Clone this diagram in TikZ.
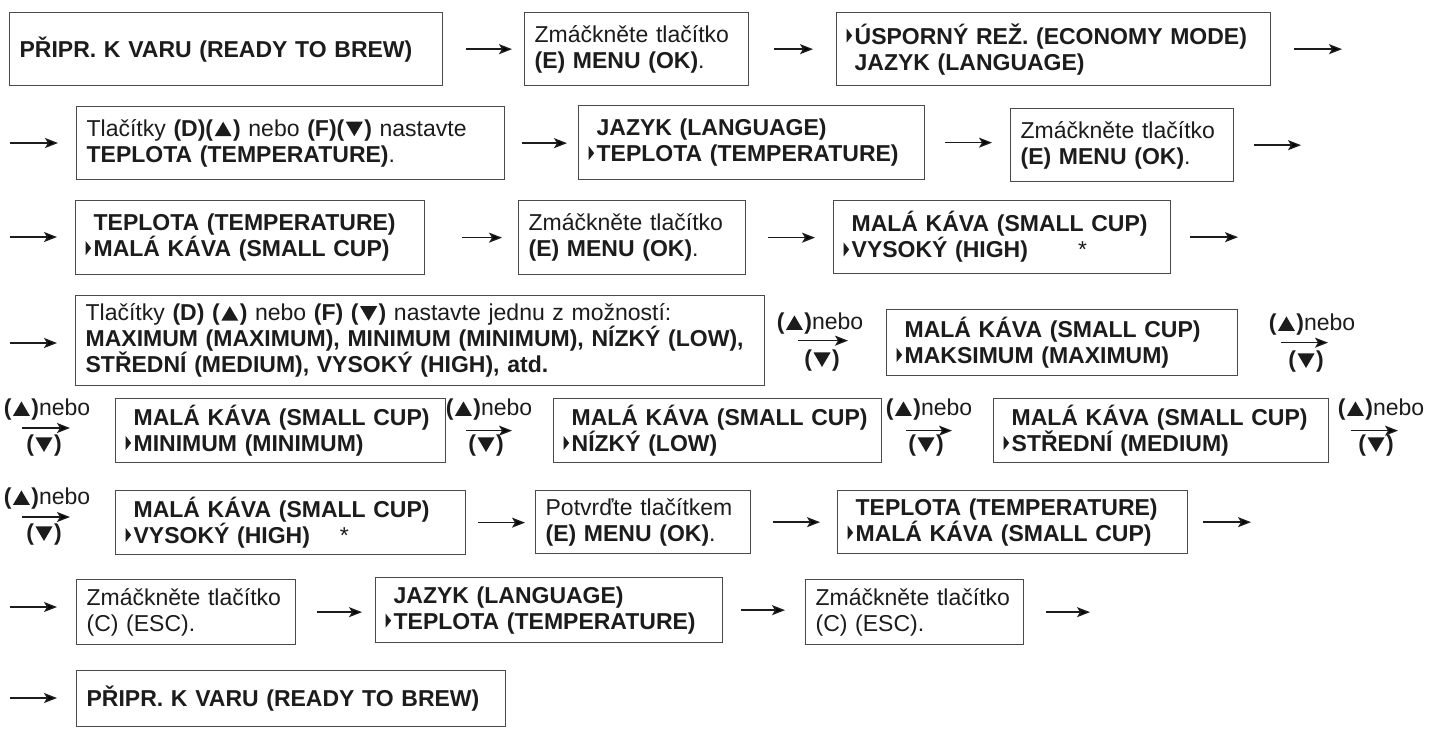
\documentclass[tikz,border=0pt]{standalone}
\usepackage{fontspec}
\setmainfont{Liberation Sans}
\usetikzlibrary{arrows.meta}
\definecolor{txt}{HTML}{1C1C1C}
\definecolor{bord}{HTML}{4A4A4A}
\newcommand\up{\hspace{1.5pt}\tikz[baseline=0pt,x=1pt,y=1pt]\fill[txt] (0,0)--(17,0)--(8.5,14.5)--cycle;\hspace{1.5pt}}
\newcommand\dn{\hspace{1.5pt}\tikz[baseline=0pt,x=1pt,y=1pt]\fill[txt] (0,14.5)--(17,14.5)--(8.5,0)--cycle;\hspace{1.5pt}}
\newcommand\tri{\tikz[baseline=0pt,x=1pt,y=1pt]\fill[txt] (0,1.5)--(5.5,8.5)--(0,15.5)--cycle;\hspace{2.5pt}}
\newcommand\ntri{\hspace{8pt}}
\begin{document}
\begin{tikzpicture}[x=1pt,y=-1pt,
  box/.style={draw=bord, line width=1.3pt, anchor=north west, inner xsep=10pt, inner ysep=0pt,
    align=left, text=txt, font=\fontsize{23}{26}\selectfont},
  bx/.style n args={3}{minimum width=#1pt, text width=#2pt, minimum height=#3pt},
  arr/.style={draw=txt, line width=1.4pt, -{Stealth[length=13pt,width=10pt,inset=3pt]}},
  lab/.style={text=txt, inner sep=0pt, font=\fontsize{23}{26}\selectfont}]
\fill[white] (0,0) rectangle (1429,748);
\useasboundingbox (0,0) rectangle (1429,748);

% Row 1
\node[box,bx={433}{413}{73}] (b1) at (9,12) {\textbf{PŘIPR. K VARU (READY TO BREW)}};
\node[box,bx={224}{204}{73}] (b2) at (524,12) {Zmáčkněte tlačítko\\\textbf{(E) MENU (OK)}.};
\node[box,bx={434}{414}{73}] (b3) at (836,12) {\tri\textbf{ÚSPORNÝ REŽ. (ECONOMY MODE)}\\\ntri\textbf{JAZYK (LANGUAGE)}};
\coordinate (e1) at (1342,48);
\draw[arr, shorten <=23pt, shorten >=12pt] (b1.east) -- (b1.east -| b2.west);
\draw[arr, shorten <=25pt, shorten >=23pt] (b2.east) -- (b2.east -| b3.west);
\draw[arr, shorten <=23pt] (b3.east) -- (b3.east -| e1);

% Row 2
\coordinate (s2) at (10,143);
\node[box,bx={428}{408}{73}] (b4) at (76,106) {Tlačítky \textbf{(D)(\up)} nebo \textbf{(F)(\dn)} nastavte\\\textbf{TEPLOTA (TEMPERATURE)}.};
\node[box,bx={346}{326}{74}] (b5) at (578,105) {\ntri\textbf{JAZYK (LANGUAGE)}\\\tri\textbf{TEPLOTA (TEMPERATURE)}};
\node[box,bx={223}{203}{73}] (b6) at (1010,108) {Zmáčkněte tlačítko\\\textbf{(E) MENU (OK)}.};
\coordinate (e2) at (1301,144);
\draw[arr, shorten >=18pt] (s2) -- (s2 -| b4.west);
\draw[arr, shorten <=17pt, shorten >=11pt] (b4.east) -- (b4.east -| b5.west);
\draw[arr, shorten <=20pt, shorten >=18pt] (b5.east) -- (b5.east -| b6.west);
\draw[arr, shorten <=20pt] (b6.east) -- (b6.east -| e2);

% Row 3
\coordinate (s3) at (10,237);
\node[box,bx={349}{329}{74}] (b7) at (75,200) {\ntri\textbf{TEPLOTA (TEMPERATURE)}\\\tri\textbf{MALÁ KÁVA (SMALL CUP)}};
\node[box,bx={227}{207}{74}] (b8) at (518,200) {Zmáčkněte tlačítko\\\textbf{(E) MENU (OK)}.};
\node[box,bx={337}{317}{73}] (b9) at (833,200) {\ntri\textbf{MALÁ KÁVA (SMALL CUP)}\\\tri\textbf{VYSOKÝ (HIGH)}\hspace{50pt}*};
\coordinate (e3) at (1238,237);
\draw[arr, shorten >=18pt] (s3) -- (s3 -| b7.west);
\draw[arr, shorten <=37pt, shorten >=16pt] (b7.east) -- (b7.east -| b8.west);
\draw[arr, shorten <=22pt, shorten >=18pt] (b8.east) -- (b8.east -| b9.west);
\draw[arr, shorten <=19pt] (b9.east) -- (b9.east -| e3);

% Row 4
\coordinate (s4) at (10,343);
\node[box,bx={689}{669}{90}] (b10) at (75,295) {Tlačítky \textbf{(D) (\up)} nebo \textbf{(F) (\dn)} nastavte jednu z možností:\\\textbf{MAXIMUM (MAXIMUM), MINIMUM (MINIMUM), NÍZKÝ (LOW),}\\\textbf{STŘEDNÍ (MEDIUM), VYSOKÝ (HIGH), atd.}};
\node[box,bx={351}{331}{66}] (b11) at (886,309) {\ntri\textbf{MALÁ KÁVA (SMALL CUP)}\\\tri\textbf{MAKSIMUM (MAXIMUM)}};
\coordinate (e4) at (1328,343);
\draw[arr, shorten >=18pt] (s4) -- (s4 -| b10.west);
\draw[arr, shorten <=33pt, shorten >=38pt] (b10.east) -- (b10.east -| b11.west);
\node[lab] (l1u) at (820,324) {\textbf{(\up)}nebo};
\node[lab] (l1d) at (822,361) {\textbf{(\dn)}};
\draw[arr, shorten <=43pt] (b11.east) -- (b11.east -| e4);
\node[lab] (l2u) at (1312,325) {\textbf{(\up)}nebo};
\node[lab] (l2d) at (1306,362) {\textbf{(\dn)}};

% Row 5
\coordinate (s5) at (22,428);
\node[box,bx={330}{310}{64}] (b12) at (115,398) {\ntri\textbf{MALÁ KÁVA (SMALL CUP)}\\\tri\textbf{MINIMUM (MINIMUM)}};
\node[box,bx={328}{308}{64}] (b13) at (553,398) {\ntri\textbf{MALÁ KÁVA (SMALL CUP)}\\\tri\textbf{NÍZKÝ (LOW)}};
\node[box,bx={335}{315}{64}] (b14) at (993,398) {\ntri\textbf{MALÁ KÁVA (SMALL CUP)}\\\tri\textbf{STŘEDNÍ (MEDIUM)}};
\coordinate (e5) at (1398,428);
\draw[arr, shorten >=45pt] (s5) -- (s5 -| b12.west);
\node[lab] (l3u) at (47,410) {\textbf{(\up)}nebo};
\node[lab] (l3d) at (44,446) {\textbf{(\dn)}};
\draw[arr, shorten <=20pt, shorten >=41pt] (b12.east) -- (b12.east -| b13.west);
\node[lab] (l4u) at (489,410) {\textbf{(\up)}nebo};
\node[lab] (l4d) at (486,446) {\textbf{(\dn)}};
\draw[arr, shorten <=24pt, shorten >=41pt] (b13.east) -- (b13.east -| b14.west);
\node[lab] (l5u) at (929,410) {\textbf{(\up)}nebo};
\node[lab] (l5d) at (926,446) {\textbf{(\dn)}};
\draw[arr, shorten <=22pt] (b14.east) -- (b14.east -| e5);
\node[lab] (l6u) at (1381,410) {\textbf{(\up)}nebo};
\node[lab] (l6d) at (1376,446) {\textbf{(\dn)}};

% Row 6
\coordinate (s6) at (22,517);
\node[box,bx={350}{330}{64}] (b15) at (115,490) {\ntri\textbf{MALÁ KÁVA (SMALL CUP)}\\\tri\textbf{VYSOKÝ (HIGH)}\hspace{30pt}*};
\node[box,bx={215}{195}{63}] (b16) at (535,490) {Potvrďte tlačítkem\\\textbf{(E) MENU (OK)}.};
\node[box,bx={350}{330}{63}] (b17) at (837,490) {\ntri\textbf{TEPLOTA (TEMPERATURE)}\\\tri\textbf{MALÁ KÁVA (SMALL CUP)}};
\coordinate (e6) at (1251,522);
\draw[arr, shorten >=45pt] (s6) -- (s6 -| b15.west);
\node[lab] (l7u) at (47,499) {\textbf{(\up)}nebo};
\node[lab] (l7d) at (44,535) {\textbf{(\dn)}};
\draw[arr, shorten <=12pt, shorten >=10pt] (b15.east) -- (b15.east -| b16.west);
\draw[arr, shorten <=22pt, shorten >=17pt] (b16.east) -- (b16.east -| b17.west);
\draw[arr, shorten <=15pt] (b17.east) -- (b17.east -| e6);

% Row 7
\coordinate (s7) at (10,607);
\node[box,bx={219}{199}{65}] (b18) at (76,579) {Zmáčkněte tlačítko\\(C) (ESC).};
\node[box,bx={347}{327}{65}] (b19) at (375,577) {\ntri\textbf{JAZYK (LANGUAGE)}\\\tri\textbf{TEPLOTA (TEMPERATURE)}};
\node[box,bx={218}{198}{65}] (b20) at (805,579) {Zmáčkněte tlačítko\\(C) (ESC).};
\coordinate (e7) at (1090,605);
\draw[arr, shorten >=19pt] (s7) -- (s7 -| b18.west);
\draw[arr, shorten <=21pt, shorten >=13pt] (b18.east) -- (b18.east -| b19.west);
\draw[arr, shorten <=18pt, shorten >=20pt] (b19.east) -- (b19.east -| b20.west);
\draw[arr, shorten <=22pt] (b20.east) -- (b20.east -| e7);

% Row 8
\coordinate (s8) at (10,698);
\node[box,bx={429}{409}{56}] (b21) at (76,670) {\textbf{PŘIPR. K VARU (READY TO BREW)}};
\draw[arr, shorten >=19pt] (s8) -- (s8 -| b21.west);
\end{tikzpicture}
\end{document}
